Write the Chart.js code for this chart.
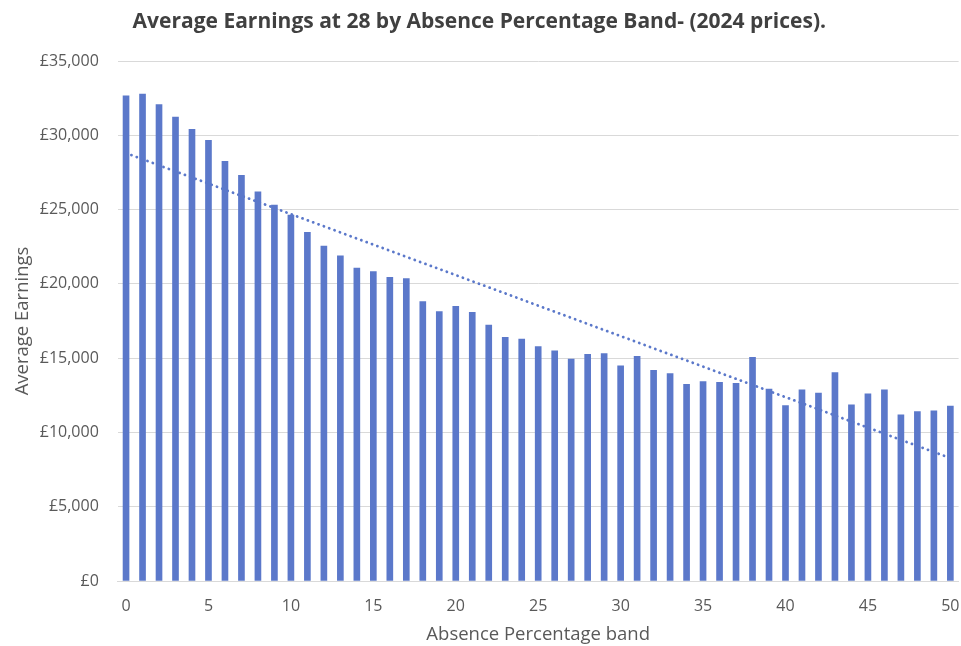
<!DOCTYPE html>
<html>
<head>
<meta charset="utf-8">
<script src="https://cdn.jsdelivr.net/npm/chart.js@4/dist/chart.umd.min.js"></script>
<style>
  html, body { margin: 0; padding: 0; background: #ffffff; }
  #wrap { position: relative; width: 961px; height: 646px; }
</style>
</head>
<body>
<div id="wrap"><canvas id="c" width="961" height="646"></canvas></div>
<script>
const categories = ['0','1','2','3','4','5','6','7','8','9','10','11','12','13','14','15','16','17','18','19','20','21','22','23','24','25','26','27','28','29','30','31','32','33','34','35','36','37','38','39','40','41','42','43','44','45','46','47','48','49','50'];
const earnings = [32650, 32770, 32070, 31220, 30400, 29660, 28250, 27310, 26200, 25310,
  24630, 23470, 22550, 21880, 21070, 20820, 20440, 20350, 18800, 18130,
  18490, 18090, 17230, 16400, 16290, 15770, 15500, 14940, 15260, 15300,
  14490, 15120, 14180, 13960, 13240, 13420, 13370, 13300, 15060, 12920,
  11800, 12860, 12650, 14020, 11850, 12590, 12860, 11190, 11400, 11460, 11780];
const trendStart = { x: '0', y: 28800 };
const trendEnd = { x: '50', y: 8270 };
const yTicks = [0, 5000, 10000, 15000, 20000, 25000, 30000, 35000];

const FONT = "'Open Sans', sans-serif";
const BLUE = '#5B78CA';

new Chart(document.getElementById('c'), {
  type: 'bar',
  data: {
    labels: categories,
    datasets: [
      {
        type: 'line',
        label: 'Linear trend',
        data: [trendStart, trendEnd],
        borderColor: BLUE,
        borderWidth: 2.8,
        borderDash: [0.1, 5.6],
        borderCapStyle: 'round',
        pointRadius: 0,
        fill: false,
        order: 0
      },
      {
        label: 'Average Earnings',
        data: earnings,
        backgroundColor: BLUE,
        barThickness: 6,
        order: 1
      }
    ]
  },
  options: {
    responsive: false,
    animation: false,
    layout: { padding: { left: 0, right: 2.4, top: 0, bottom: 0 } },
    plugins: {
      legend: { display: false },
      tooltip: { enabled: false },
      title: {
        display: true,
        text: 'Average Earnings at 28 by Absence Percentage Band- (2024 prices).',
        color: '#404040',
        font: { family: FONT, size: 21, weight: 'bold' },
        padding: { top: 9.5, bottom: 26.3 }
      }
    },
    scales: {
      x: {
        grid: { display: true, drawOnChartArea: false, drawTicks: true, tickLength: 16, color: 'rgba(0,0,0,0)' },
        border: { display: true, color: '#d9d9d9', width: 1 },
        ticks: {
          autoSkip: false,
          maxRotation: 0,
          padding: 0,
          color: '#595959',
          font: { family: FONT, size: 16 },
          callback: function(v, i) { return i % 5 === 0 ? categories[i] : ''; }
        },
        title: {
          display: true,
          text: 'Absence Percentage band',
          color: '#595959',
          font: { family: FONT, size: 18.5 },
          padding: { top: 0, bottom: 0 }
        },
        afterFit: function(s) { s.height = 65; }
      },
      y: {
        min: 0,
        max: 35000,
        grid: { color: '#d9d9d9', lineWidth: 1, drawTicks: false },
        border: { display: false },
        afterBuildTicks: function(s) { s.ticks = yTicks.map(v => ({ value: v })); },
        ticks: {
          padding: 19,
          color: '#595959',
          font: { family: FONT, size: 16 },
          callback: function(v) { return '£' + Number(v).toLocaleString('en-GB'); }
        },
        title: {
          display: true,
          text: 'Average Earnings',
          color: '#595959',
          font: { family: FONT, size: 18.5 },
          padding: { top: 12, bottom: 0 }
        },
        afterFit: function(s) { s.width = 117.8; }
      }
    }
  }
});
</script>
</body>
</html>
